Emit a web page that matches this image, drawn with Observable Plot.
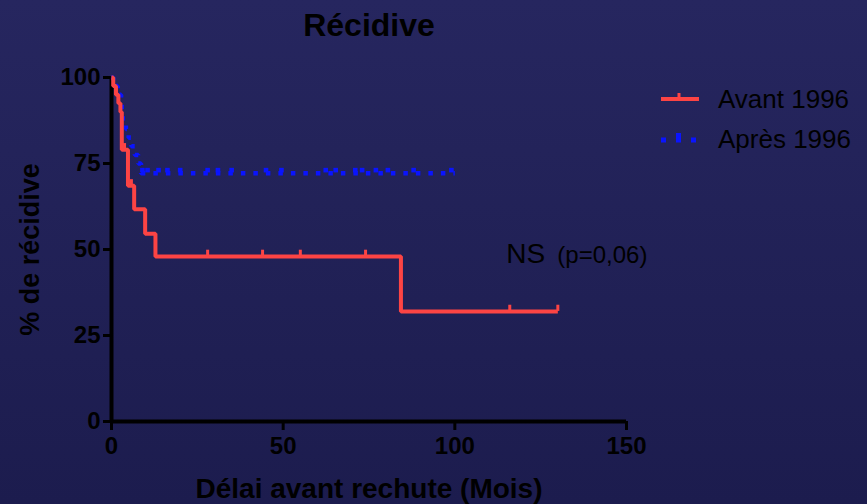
<!DOCTYPE html>
<html><head><meta charset="utf-8">
<script src="https://cdn.jsdelivr.net/npm/d3@7"></script>
<script src="https://cdn.jsdelivr.net/npm/@observablehq/plot@0.6"></script>
<style>
html,body{margin:0;padding:0;}
body{width:867px;height:504px;background:linear-gradient(to bottom,#26265f,#1c1c4e);overflow:hidden;}
#chart svg{display:block;background:transparent;}
#chart svg g[aria-label="x-axis tick label"] text,
#chart svg g[aria-label="y-axis tick label"] text{font-weight:bold;}
</style></head><body><div id="chart"></div>
<script>
// ---- data ----
const title = "Récidive";
const xLabel = "Délai avant rechute (Mois)";
const yLabel = "% de récidive";
const seriesNames = ["Avant 1996", "Après 1996"];
const xTicks = [0, 50, 100, 150];
const yTicks = [0, 25, 50, 75, 100];

const redTimes = [0, 0.5, 1.3, 2.0, 2.6, 3.0, 4.8, 6.6, 9.8, 12.8, 84.3, 130];
const redSurv  = [100, 97.5, 95, 92.5, 90, 79, 68.5, 61.7, 54.6, 48, 32, 32];
const redCensorTimes = [3.8, 5.8, 28, 44, 55, 74, 116, 130];
const redCensorSurv  = [79, 68.5, 48, 48, 48, 48, 32, 32];

const blueTimes = [0, 0.5, 1.8, 2.8, 3.0, 3.3, 4.2, 5.0, 5.8, 6.8, 7.8, 8.6, 100];
const blueSurv  = [100, 97.5, 95, 92.5, 90, 87.5, 85, 82.5, 80, 77.5, 75, 72.2, 72.2];
const blueCensorTimes = [9, 10.5, 13.7, 16.3, 20, 28, 31, 35, 45, 49.5, 62.4, 65.3, 71, 73, 77, 80.5, 88, 99];
const blueCensorSurv  = blueCensorTimes.map(() => 72.2);

const annNS = "NS";
const annP = "(p=0,06)";
const annX = 115, annY = 46;

// ---- build tables ----
const red = redTimes.map((t, i) => ({t, s: redSurv[i]}));
const blue = blueTimes.map((t, i) => ({t, s: blueSurv[i]}));
const redC = redCensorTimes.map((t, i) => ({t, s: redCensorSurv[i]}));
const blueC = blueCensorTimes.map((t, i) => ({t, s: blueCensorSurv[i]}));

const RED = "#fc4444", BLUE = "#0a14ff";
const W = 867, H = 504, ML = 111, MR = 241, MT = 77, MB = 83;
const FONT = "'Liberation Sans', Arial, sans-serif";

const chart = Plot.plot({
  width: W, height: H, marginLeft: ML, marginRight: MR, marginTop: MT, marginBottom: MB,
  style: {background: "transparent", color: "black", fontFamily: FONT, overflow: "visible"},
  x: {domain: [0, 150]},
  y: {domain: [0, 100]},
  marks: [
    Plot.axisX({ticks: xTicks, tickSize: 9, tickPadding: 6, label: null, fontSize: 24, fontWeight: "bold", strokeWidth: 3, stroke: "black", fill: "black"}),
    Plot.axisY({ticks: yTicks, tickSize: 8, tickPadding: 3, label: null, fontSize: 24, fontWeight: "bold", strokeWidth: 3, stroke: "black", fill: "black"}),
    Plot.ruleY([0], {stroke: "black", strokeWidth: 4}),
    Plot.ruleX([0], {stroke: "black", strokeWidth: 4}),
    Plot.line(blue, {x: "t", y: "s", curve: "step-after", stroke: BLUE, strokeWidth: 4.5, strokeDasharray: "4.5,8", strokeLinecap: "butt", strokeLinejoin: "miter"}),
    Plot.dot(blueC, {x: "t", y: "s", symbol: "square", r: 2.6, fill: BLUE, dy: -3}),
    Plot.line(red, {x: "t", y: "s", curve: "step-after", stroke: RED, strokeWidth: 4, strokeLinecap: "butt", strokeLinejoin: "miter"}),
    Plot.ruleX(redC, {x: "t", y1: "s", y2: d => d.s + 1.8, stroke: RED, strokeWidth: 3}),
    Plot.text([annNS], {x: () => annX, y: () => annY, text: d => d, textAnchor: "start", lineAnchor: "bottom", fontSize: 28, fill: "black"}),
    Plot.text([annP], {x: () => annX, y: () => annY, text: d => d, textAnchor: "start", lineAnchor: "bottom", fontSize: 24, dx: 51, dy: 0, fill: "black"}),
    Plot.text([title], {frameAnchor: "top", text: d => d, dy: -42, lineAnchor: "bottom", fontSize: 32, fontWeight: "bold", fill: "black"}),
    Plot.text([xLabel], {frameAnchor: "bottom", text: d => d, dy: 76, lineAnchor: "bottom", fontSize: 28, fontWeight: "bold", fill: "black"}),
    Plot.text([yLabel], {frameAnchor: "left", text: d => d, dx: -81, rotate: -90, textAnchor: "middle", lineAnchor: "middle", fontSize: 27, fontWeight: "bold", fill: "black"})
  ]
});
document.getElementById("chart").appendChild(chart);

// ---- legend ----
const svg = d3.select(chart);
const lx = W - MR + 35;   // legend sample start
const lg = svg.append("g").attr("aria-label", "legend").attr("text-anchor", "start");
// red sample
lg.append("line").attr("x1", lx).attr("x2", lx + 38).attr("y1", 99).attr("y2", 99)
  .attr("stroke", RED).attr("stroke-width", 4);
lg.append("line").attr("x1", lx + 18).attr("x2", lx + 18).attr("y1", 93).attr("y2", 99)
  .attr("stroke", RED).attr("stroke-width", 3);
// blue sample
lg.append("line").attr("x1", lx).attr("x2", lx + 38).attr("y1", 140).attr("y2", 140)
  .attr("stroke", BLUE).attr("stroke-width", 5).attr("stroke-dasharray", "5,10");
lg.append("rect").attr("x", lx + 15).attr("y", 133).attr("width", 5).attr("height", 6).attr("fill", BLUE);
[seriesNames[0], seriesNames[1]].forEach((name, i) => {
  lg.append("text").attr("x", lx + 57).attr("y", 108 + i * 40).attr("text-anchor", "start")
    .attr("font-family", FONT).attr("font-size", 26).attr("fill", "black").text(name);
});
</script>
</body></html>
